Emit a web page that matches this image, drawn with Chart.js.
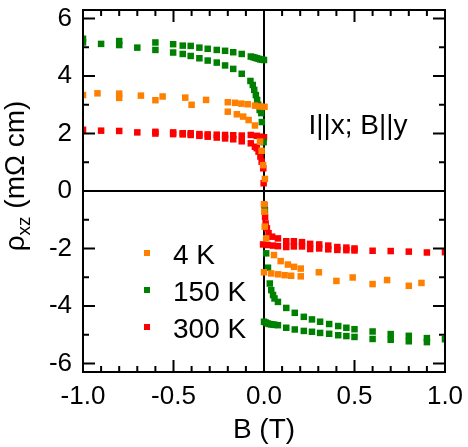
<!DOCTYPE html>
<html>
<head>
<meta charset="utf-8">
<script src="https://cdn.jsdelivr.net/npm/chart.js@4/dist/chart.umd.min.js"></script>
<style>
html,body{margin:0;padding:0;background:#fff;}
#wrap{width:468px;height:447px;position:relative;}
</style>
</head>
<body>
<div id="wrap"><canvas id="c" width="468" height="447"></canvas></div>
<script>
// ---- series labels / colours ----
const seriesLabels = ['4 K', '150 K', '300 K'];
const seriesColors = ['#FF8000', '#008000', '#FF0000'];

// ---- 4 K (orange) ----
const B_4K = [
  -1.0, -0.92, -0.8, -0.8, -0.68, -0.6, -0.56, -0.435, -0.40, -0.32,
  -0.2, -0.16, -0.125, -0.09, -0.05, -0.02, 0.003,
  -0.2, -0.15, -0.115, -0.085, -0.05, -0.022, -0.013, -0.005, 0.005,
  0.0, 0.002, 0.004, 0.012, 0.055, 0.092, 0.132, 0.166, 0.203,
  0.0, 0.04, 0.078, 0.114, 0.15, 0.203, 0.303, 0.40, 0.49, 0.60, 0.68, 0.80, 0.87
];
const rho_4K = [
  3.34, 3.40, 3.39, 3.24, 3.32, 3.16, 3.29, 3.25, 3.00, 3.17,
  3.09, 3.07, 3.04, 3.02, 2.97, 2.94, 2.93,
  2.76, 2.67, 2.59, 2.47, 2.28, 1.72, 1.40, 0.90, 0.42,
  -0.46, -0.72, -1.24, -1.65, -2.23, -2.44, -2.56, -2.64, -2.70,
  -2.83, -2.87, -2.90, -2.93, -2.95, -2.97, -2.83, -3.13, -3.01, -3.24, -3.10, -3.30, -3.20
];

// ---- 150 K (green) ----
const B_150K = [
  -1.0, -0.9, -0.8, -0.7, -0.6, -0.502, -0.449, -0.405, -0.357, -0.311, -0.261, -0.215, -0.17, -0.123,
  -0.073, -0.06, -0.05, -0.04, -0.03, -0.02, -0.01, 0.0,
  -1.0, -0.8, -0.6, -0.502, -0.449, -0.405, -0.357, -0.311, -0.261, -0.215, -0.17, -0.123,
  -0.075, -0.062, -0.054, -0.045, -0.038, -0.032, -0.024, -0.015, -0.012, -0.002,
  0.005, 0.012, 0.022, 0.032, 0.04, 0.05, 0.058, 0.077, 0.123, 0.17, 0.22, 0.265, 0.31, 0.36, 0.41, 0.455, 0.5,
  0.6, 0.7, 0.8, 0.9,
  0.0, 0.01, 0.02, 0.03, 0.04, 0.05, 0.06, 0.077, 0.123, 0.17, 0.22, 0.265, 0.31, 0.36, 0.41, 0.455, 0.5,
  0.6, 0.7, 0.8, 0.9, 1.0
];
const rho_150K = [
  5.30, 5.12, 5.22, 4.99, 5.17, 5.11, 5.06, 5.05, 4.99, 4.95, 4.91, 4.88, 4.83, 4.77,
  4.68, 4.66, 4.64, 4.62, 4.60, 4.58, 4.57, 4.56,
  5.17, 5.08, 4.91, 4.82, 4.77, 4.70, 4.62, 4.54, 4.47, 4.37, 4.25, 4.08,
  3.83, 3.69, 3.52, 3.34, 3.17, 3.00, 2.82, 2.71, 2.40, 1.70,
  -0.66, -2.17, -2.67, -3.22, -3.45, -3.62, -3.74, -3.86, -4.07, -4.24, -4.38, -4.47, -4.55, -4.63, -4.70, -4.76, -4.81,
  -4.89, -4.98, -5.04, -5.12,
  -4.55, -4.58, -4.61, -4.63, -4.64, -4.65, -4.66, -4.67, -4.76, -4.82, -4.87, -4.90, -4.94, -4.97, -5.02, -5.05, -5.08,
  -5.15, -5.18, -5.23, -5.26, -5.16
];

// ---- 300 K (red) ----
const B_300K = [
  -1.0, -0.9, -0.8, -0.7, -0.6, -0.502, -0.449, -0.405, -0.357, -0.311, -0.261, -0.215, -0.17, -0.123,
  -0.073, -0.04, -0.02, 0.0,
  -0.6, -0.502, -0.449, -0.405, -0.357, -0.311, -0.261, -0.215, -0.17, -0.123,
  -0.073, -0.05, -0.04, -0.03, -0.02, -0.013, -0.004, -0.002,
  0.002, 0.006, 0.009, 0.016, 0.025, 0.045, 0.077, 0.123, 0.165, 0.21, 0.255, 0.305, 0.355, 0.405, 0.455, 0.5,
  0.6, 0.7, 0.8, 0.9, 1.0,
  -0.005, 0.02, 0.05, 0.077, 0.123, 0.165, 0.21, 0.255, 0.305, 0.355, 0.405, 0.455, 0.5
];
const rho_300K = [
  2.13, 2.10, 2.09, 2.04, 2.06, 2.04, 2.01, 2.01, 1.98, 1.97, 1.96, 1.95, 1.94, 1.93,
  1.95, 1.92, 1.89, 1.87,
  2.00, 1.98, 1.97, 1.95, 1.92, 1.89, 1.86, 1.83, 1.80, 1.73,
  1.66, 1.54, 1.49, 1.37, 1.20, 1.02, 0.79, 0.27,
  -0.49, -0.90, -1.13, -1.30, -1.47, -1.59, -1.65, -1.75, -1.75, -1.78, -1.84, -1.86, -1.90, -1.95, -1.97, -2.00,
  -2.08, -2.09, -2.11, -2.14, -2.13,
  -1.86, -1.88, -1.90, -1.92, -1.95, -1.93, -1.93, -2.02, -2.00, -2.03, -2.05, -2.06, -2.07
];

// ---- axes ----
const xTicks = [-1.0, -0.5, 0.0, 0.5, 1.0];
const yTicks = [-6, -4, -2, 0, 2, 4, 6];
const xTitle = 'B (T)';
const yTitleMain = 'ρ';
const yTitleSub = 'xz';
const yTitleRest = ' (mΩ cm)';
const annotationText = 'I||x; B||y';

const FONT = '"Liberation Sans", Arial, sans-serif';

function pts(bs, rs) { return bs.map((b, i) => ({ x: b, y: rs[i] })); }

const decor = {
  id: 'decor',
  beforeDatasetsDraw(chart) {
    const { ctx, chartArea: a, scales: { x, y } } = chart;
    ctx.save();
    ctx.strokeStyle = '#000';
    ctx.lineWidth = 2;
    const x0 = x.getPixelForValue(0), y0 = y.getPixelForValue(0);
    ctx.beginPath();
    ctx.moveTo(a.left, y0); ctx.lineTo(a.right, y0);
    ctx.moveTo(x0, a.top); ctx.lineTo(x0, a.bottom);
    ctx.stroke();
    ctx.restore();
  },
  afterDatasetsDraw(chart) {
    const { ctx, chartArea: a, scales: { x, y } } = chart;
    ctx.save();
    ctx.strokeStyle = '#000';
    ctx.lineWidth = 2;
    ctx.strokeRect(a.left, a.top, a.right - a.left, a.bottom - a.top);
    ctx.beginPath();
    for (let i = -10; i <= 10; i++) {
      const px = x.getPixelForValue(i / 10);
      const len = (i % 5 === 0) ? 12 : 6;
      ctx.moveTo(px, a.bottom); ctx.lineTo(px, a.bottom - len);
      ctx.moveTo(px, a.top); ctx.lineTo(px, a.top + len);
    }
    for (let j = -6; j <= 6; j++) {
      const py = y.getPixelForValue(j);
      const len = (j % 2 === 0) ? 12 : 6;
      ctx.moveTo(a.left, py); ctx.lineTo(a.left + len, py);
      ctx.moveTo(a.right, py); ctx.lineTo(a.right - len, py);
    }
    ctx.stroke();
    ctx.restore();
  },
  afterDraw(chart) {
    const { ctx, chartArea: a, scales: { x, y } } = chart;
    ctx.save();
    ctx.fillStyle = '#000';
    // x title
    ctx.font = '28px ' + FONT;
    ctx.textAlign = 'center';
    ctx.textBaseline = 'alphabetic';
    ctx.fillText(xTitle, x.getPixelForValue(0), 438);
    // y title (rotated, with subscript)
    ctx.save();
    ctx.translate(24, 176);
    ctx.rotate(-Math.PI / 2);
    const fMain = '28px ' + FONT, fSub = '19px ' + FONT;
    ctx.font = fMain; const w1 = ctx.measureText(yTitleMain).width;
    const w3 = ctx.measureText(yTitleRest).width;
    ctx.font = fSub; const w2 = ctx.measureText(yTitleSub).width;
    let cx = -(w1 + w2 + w3) / 2;
    ctx.textAlign = 'left';
    ctx.font = fMain; ctx.fillText(yTitleMain, cx, 0); cx += w1;
    ctx.font = fSub; ctx.fillText(yTitleSub, cx, 6); cx += w2;
    ctx.font = fMain; ctx.fillText(yTitleRest, cx, 0);
    ctx.restore();
    // annotation
    ctx.font = '28px ' + FONT;
    ctx.textAlign = 'center';
    ctx.fillText(annotationText, 358, 134);
    // legend
    ctx.textAlign = 'left';
    chart.data.datasets.forEach((ds, i) => {
      const by = 264 + 37 * i;
      ctx.fillStyle = ds.backgroundColor;
      ctx.fillRect(144, by - 14, 6, 6);
      ctx.fillStyle = '#000';
      ctx.font = '28px ' + FONT;
      ctx.fillText(ds.label, 173, by);
    });
    ctx.restore();
  }
};

const mk = (i, bs, rs) => ({
  label: seriesLabels[i],
  data: pts(bs, rs),
  backgroundColor: seriesColors[i],
  borderColor: seriesColors[i],
  borderWidth: 0,
  pointStyle: 'rect',
  pointRadius: 4.6,
  pointHoverRadius: 4.6,
  showLine: false
});

function zeroPad(s) { s.paddingTop = 0; s.paddingBottom = 0; s.paddingLeft = 0; s.paddingRight = 0; }

new Chart(document.getElementById('c'), {
  type: 'scatter',
  data: {
    datasets: [
      mk(0, B_4K, rho_4K),
      mk(1, B_150K, rho_150K),
      mk(2, B_300K, rho_300K)
    ]
  },
  options: {
    responsive: false,
    animation: false,
    devicePixelRatio: 1,
    layout: { padding: { top: 10, right: 23, left: 0, bottom: 0 } },
    plugins: { legend: { display: false }, tooltip: { enabled: false } },
    scales: {
      x: {
        type: 'linear', min: -1, max: 1,
        grid: { display: false, drawTicks: false },
        border: { display: false },
        afterBuildTicks: s => { s.ticks = xTicks.map(v => ({ value: v })); },
        afterFit: s => { s.height = 75; zeroPad(s); },
        ticks: {
          padding: 9, color: '#000', maxRotation: 0, autoSkip: false,
          font: { family: FONT, size: 26 },
          callback: v => Number(v).toFixed(1)
        }
      },
      y: {
        type: 'linear', min: -6.3, max: 6.3,
        grid: { display: false, drawTicks: false },
        border: { display: false },
        afterBuildTicks: s => { s.ticks = yTicks.map(v => ({ value: v })); },
        afterFit: s => { s.width = 83; zeroPad(s); },
        ticks: {
          padding: 11, color: '#000', autoSkip: false,
          font: { family: FONT, size: 26 },
          callback: v => String(v)
        }
      }
    }
  },
  plugins: [decor]
});
</script>
</body>
</html>
